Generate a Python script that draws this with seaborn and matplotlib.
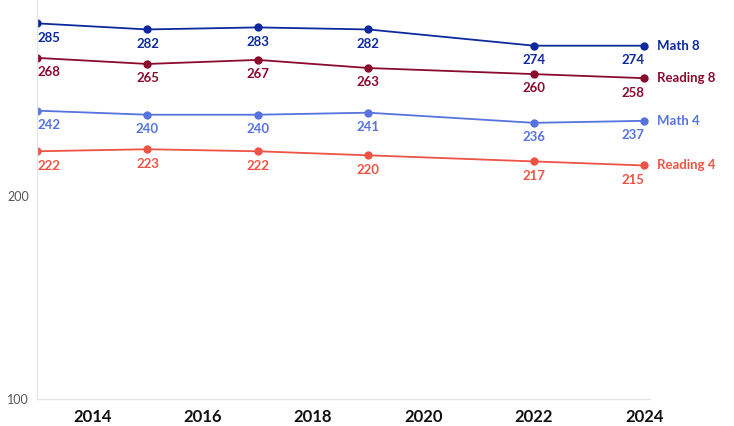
import matplotlib
matplotlib.use("Agg")
import matplotlib.pyplot as plt
import seaborn as sns
import pandas as pd

years = [2013, 2015, 2017, 2019, 2022, 2024]
math8 = [285, 282, 283, 282, 274, 274]
reading8 = [268, 265, 267, 263, 260, 258]
math4 = [242, 240, 240, 241, 236, 237]
reading4 = [222, 223, 222, 220, 217, 215]
series_names = ["Math 8", "Reading 8", "Math 4", "Reading 4"]
colors = ["#0d2a9c", "#8a0b2e", "#5673e0", "#ee5445"]
x_ticks = [2014, 2016, 2018, 2020, 2022, 2024]
y_ticks = [100, 200]

sns.set_theme(style="white")
plt.rcParams["font.family"] = ["Lato", "DejaVu Sans"]

rows = []
for name, vals in zip(series_names, [math8, reading8, math4, reading4]):
    for y, v in zip(years, vals):
        rows.append({"year": y, "score": v, "series": name})
df = pd.DataFrame(rows)
palette = dict(zip(series_names, colors))

fig = plt.figure(figsize=(7.34, 4.26), dpi=100)
ax = fig.add_axes([0.0504, 0.0634, 0.835, 0.9366])
sns.lineplot(data=df, x="year", y="score", hue="series", palette=palette,
             marker="o", markersize=6, markeredgewidth=0, linewidth=1.3,
             legend=False, ax=ax)

ax.set_xlim(2013, 2024.1)
ax.set_ylim(100, 296.5)
ax.set_xticks(x_ticks)
ax.set_xticklabels([str(t) for t in x_ticks], fontsize=12, fontweight="bold", color="#111111")
ax.set_yticks(y_ticks)
ax.set_yticklabels([str(t) for t in y_ticks], fontsize=9, color="#555555")
ax.tick_params(axis="x", length=0, pad=7)
ax.tick_params(axis="y", length=4, color="#dddddd", pad=2)
ax.set_xlabel("")
ax.set_ylabel("")
for s in ["top", "right"]:
    ax.spines[s].set_visible(False)
for s in ["left", "bottom"]:
    ax.spines[s].set_color("#e6e6e6")
    ax.spines[s].set_linewidth(1)

for name, vals, c in zip(series_names, [math8, reading8, math4, reading4], colors):
    for i, (y, v) in enumerate(zip(years, vals)):
        if i == 0:
            ha = "left"
        elif i == len(years) - 1:
            ha = "right"
        else:
            ha = "center"
        ax.annotate(str(v), (y, v), xytext=(0, -6), textcoords="offset points",
                    ha=ha, va="top", fontsize=9.5, fontweight="bold", color=c)
    ax.annotate(name, (years[-1], vals[-1]), xytext=(9, 0), textcoords="offset points",
                ha="left", va="center", fontsize=9.5, fontweight="bold", color=c,
                annotation_clip=False)

fig.savefig("out.png", dpi=100)
